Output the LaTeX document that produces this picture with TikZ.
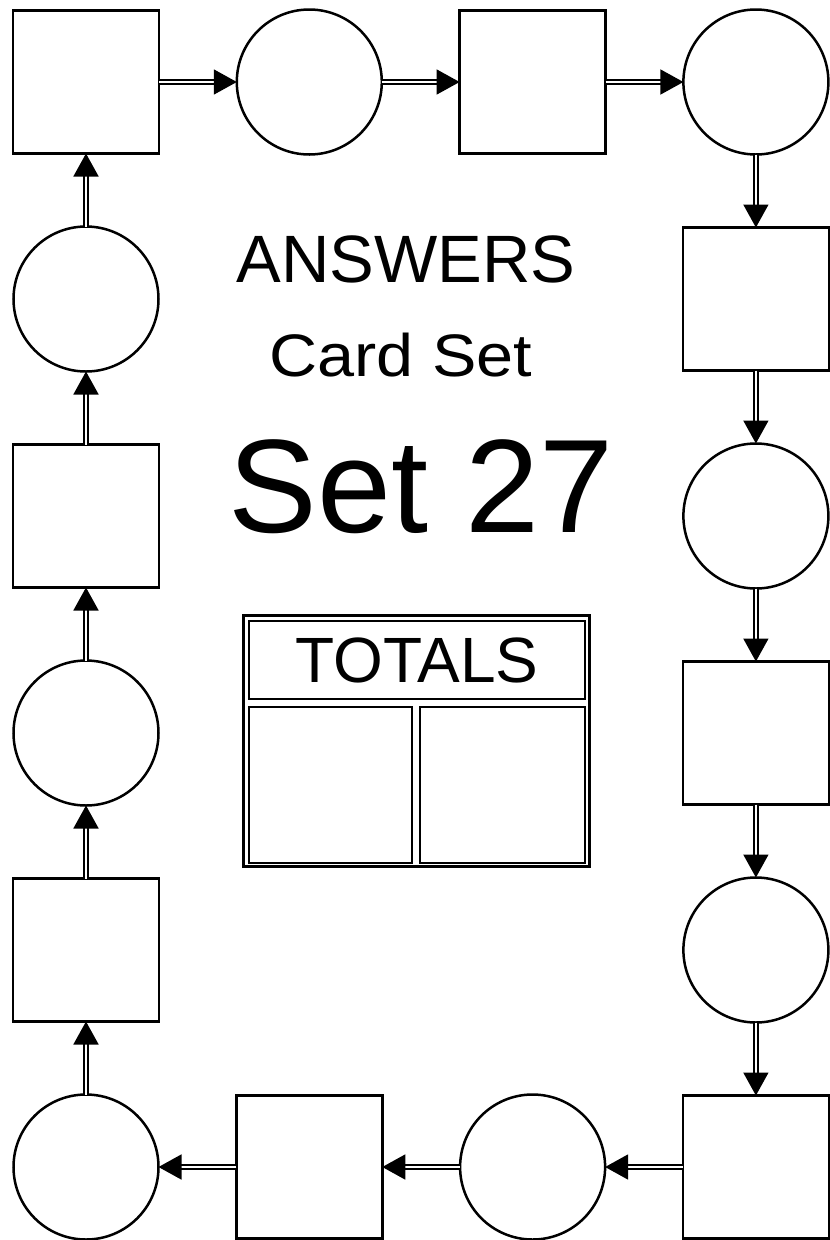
\documentclass[tikz,border=0pt]{standalone}
\usepackage{fontspec}
\setmainfont{Liberation Sans}
\newfontfamily\widesans[FakeStretch=1.11]{Liberation Sans}
\usetikzlibrary{positioning, arrows.meta}

\begin{document}
\begin{tikzpicture}[
  x=1pt, y=-1pt,
  node distance=73pt and 77.8pt,
  card/.style={rectangle, draw=black, line width=2.5pt, fill=white, outer sep=0pt,
               minimum width=146pt, minimum height=143pt},
  token/.style={circle, draw=black, line width=2.5pt, fill=white, outer sep=0pt,
                minimum size=145pt, inner sep=0pt},
  link/.style={-{Triangle[length=23pt,width=25pt]}, double, line width=1.6pt, double distance=2.2pt},
  cell/.style={rectangle, draw=black, line width=2pt, outer sep=0pt, inner sep=0pt},
  title/.style={anchor=base, inner sep=0pt},
]
\useasboundingbox (0,0) rectangle (830,1240);

% top row
\node[card] (s1) at (86,82) {};
\node[token, right=of s1] (c1) {};
\node[card, right=of c1] (s2) {};
\node[token, right=of s2] (c2) {};
% right column, going down
\node[card, below=of c2] (s3) {};
\node[token, below=of s3] (c3) {};
\node[card, below=of c3] (s4) {};
\node[token, below=of s4] (c4) {};
\node[card, below=of c4] (s5) {};
% bottom row, going left
\node[token, left=of s5] (c5) {};
\node[card, left=of c5] (s6) {};
\node[token, left=of s6] (c6) {};
% left column, going up
\node[card, above=of c6] (s7) {};
\node[token, above=of s7] (c7) {};
\node[card, above=of c7] (s8) {};
\node[token, above=of s8] (c8) {};

% the loop of links
\draw[link] (s1) -- (c1);
\draw[link] (c1) -- (s2);
\draw[link] (s2) -- (c2);
\draw[link] (c2) -- (s3);
\draw[link] (s3) -- (c3);
\draw[link] (c3) -- (s4);
\draw[link] (s4) -- (c4);
\draw[link] (c4) -- (s5);
\draw[link] (s5) -- (c5);
\draw[link] (c5) -- (s6);
\draw[link] (s6) -- (c6);
\draw[link] (c6) -- (s7);
\draw[link] (s7) -- (c7);
\draw[link] (c7) -- (s8);
\draw[link] (s8) -- (c8);
\draw[link] (c8) -- (s1);

% titles in the middle
\node[title, font=\fontsize{67}{70}\selectfont] (answers) at (406,282) {ANSWERS};
\node[title, font=\widesans\fontsize{60}{64}\selectfont] (cardset) at (401,376) {Card Set};
\node[title, font=\fontsize{133}{140}\selectfont] (setno) at (421,532) {Set 27};

% totals table
\node[rectangle, draw=black, line width=2.8pt, minimum width=346pt, minimum height=251pt] (totalbox) at (416.5,741) {};
\node[cell, minimum width=336pt, minimum height=78pt, font=\fontsize{64}{68}\selectfont] (head) at (417,660) {TOTALS};
\node[cell, minimum width=163pt, minimum height=156pt] (sumA) at (330.5,785) {};
\node[cell, minimum width=165pt, minimum height=156pt] (sumB) at (502.5,785) {};
\end{tikzpicture}
\end{document}
